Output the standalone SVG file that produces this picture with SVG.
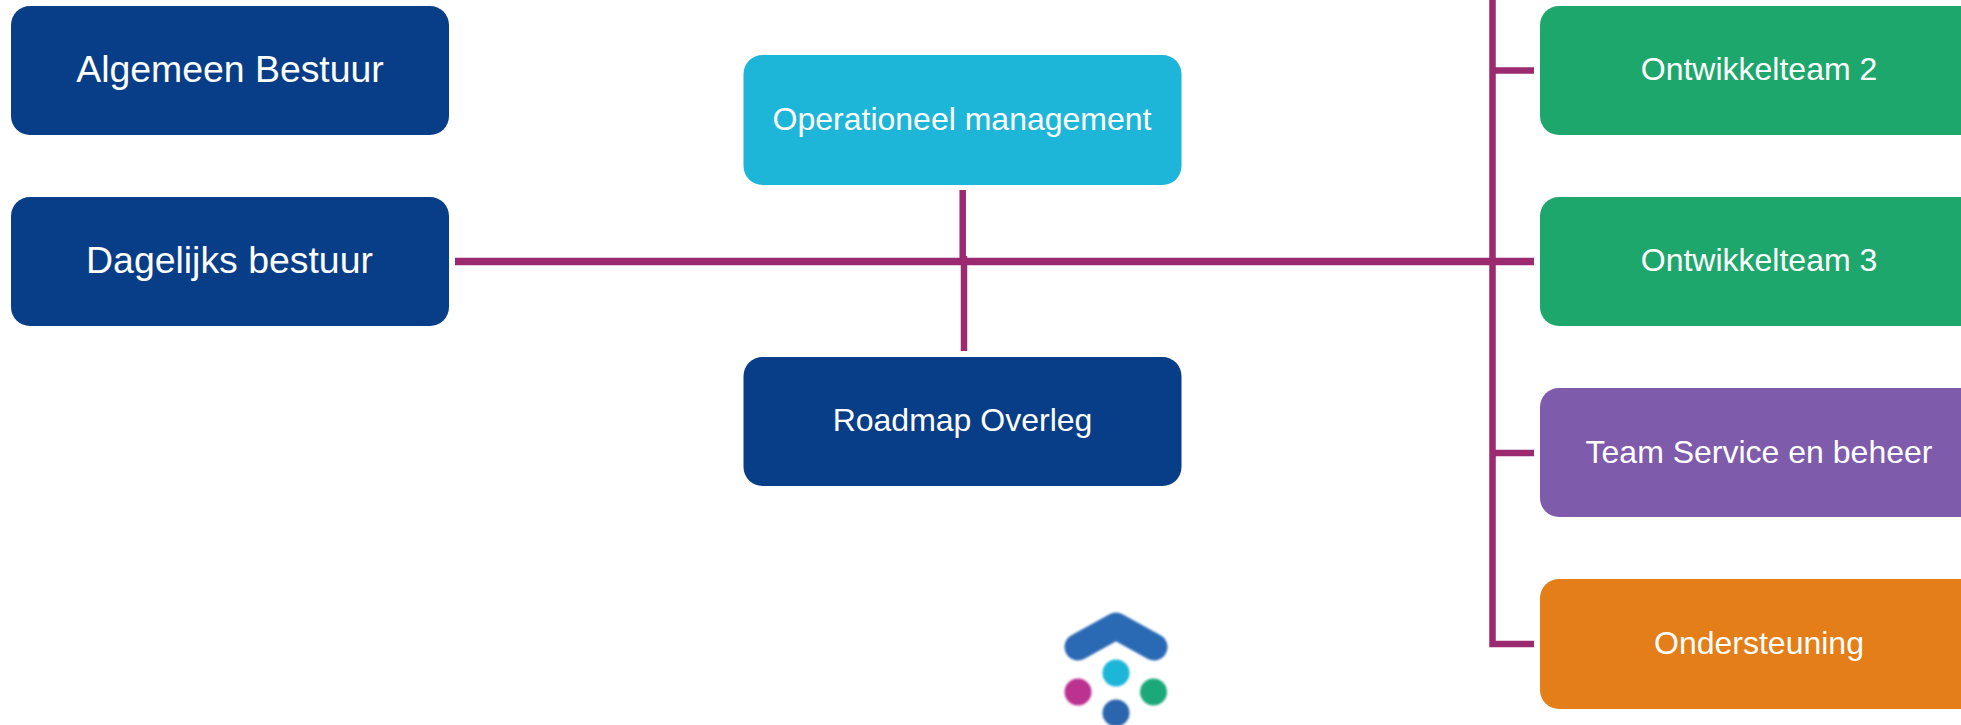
<svg xmlns="http://www.w3.org/2000/svg" width="1961" height="725" viewBox="0 0 1961 725">
<defs>
<style>
.box{stroke:none}
.t{font-family:"Liberation Sans",Arial,sans-serif;fill:#fff;text-anchor:middle}
.lg{font-size:37.4px}
.md{font-size:32px}
.navy{fill:#083d88}.cyan{fill:#1eb6d8}.green{fill:#1ea76c}.purple{fill:#7e5bab}.orange{fill:#e37e18}
.c{stroke:#9b2a70;stroke-width:6.5;fill:none}
</style>
<filter id="soft" filterUnits="userSpaceOnUse" x="1040" y="590" width="150" height="135"><feGaussianBlur stdDeviation="0.8"/></filter>
</defs>
<rect width="1961" height="725" fill="#fff"/>
<g id="connectors">
<path class="c" style="stroke-width:7.5" d="M455 261.5H1534"/>
<path class="c" d="M1492.5 0V644H1534"/>
<path class="c" d="M1492.5 70.5H1534"/>
<path class="c" d="M1492.5 453H1534"/>
<path class="c" d="M962.7 190V262"/>
<path class="c" d="M964 256V351"/>
</g>
<g id="algemeen-bestuur"><rect class="box navy" x="11" y="6" width="438" height="129" rx="19"/><text class="t lg" x="230" y="82">Algemeen Bestuur</text></g>
<g id="dagelijks-bestuur"><rect class="box navy" x="11" y="197" width="438" height="129" rx="19"/><text class="t lg" x="229.5" y="273">Dagelijks bestuur</text></g>
<g id="operationeel-management"><rect class="box cyan" x="743.5" y="55" width="438" height="130" rx="19"/><text class="t md" x="962" y="130">Operationeel management</text></g>
<g id="roadmap-overleg"><rect class="box navy" x="743.5" y="357" width="438" height="129" rx="19"/><text class="t md" x="962.5" y="431">Roadmap Overleg</text></g>
<g id="ontwikkelteam-2"><rect class="box green" x="1540" y="6" width="438" height="129" rx="19"/><text class="t md" x="1759" y="80">Ontwikkelteam 2</text></g>
<g id="ontwikkelteam-3"><rect class="box green" x="1540" y="197" width="438" height="129" rx="19"/><text class="t md" x="1759" y="271">Ontwikkelteam 3</text></g>
<g id="team-service"><rect class="box purple" x="1540" y="388" width="438" height="129" rx="19"/><text class="t md" x="1759" y="463">Team Service en beheer</text></g>
<g id="ondersteuning"><rect class="box orange" x="1540" y="579" width="438" height="130" rx="19"/><text class="t md" x="1759" y="654">Ondersteuning</text></g>
<g id="logo" filter="url(#soft)">
<path d="M1078 647L1116 626L1154 647" fill="none" stroke="#2a6ab5" stroke-width="27" stroke-linecap="round" stroke-linejoin="round"/>
<circle cx="1116" cy="673" r="13.5" fill="#1fb6d8"/>
<circle cx="1078" cy="692" r="13.5" fill="#bc3191"/>
<circle cx="1153.5" cy="692" r="13.5" fill="#1fa97a"/>
<circle cx="1116" cy="713" r="13.5" fill="#2a65ae"/>
</g>
</svg>
